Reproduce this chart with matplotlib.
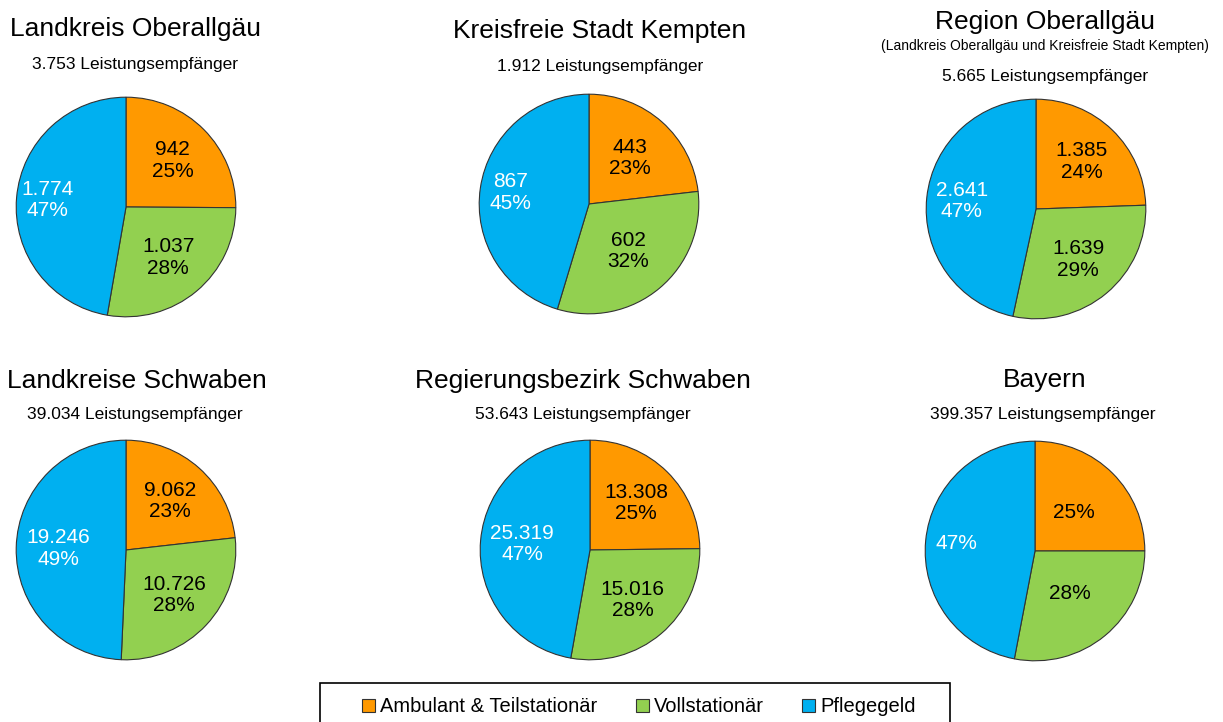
import matplotlib
matplotlib.use("Agg")
import matplotlib.pyplot as plt
from matplotlib.patches import Patch, Rectangle
import numpy as np

plt.rcParams["font.family"] = ["Liberation Sans", "DejaVu Sans"]

W, H = 1223, 722

categories = ["Ambulant & Teilstationär", "Vollstationär", "Pflegegeld"]
colors = ["#FF9900", "#92D050", "#00B0F0"]

titles = ["Landkreis Oberallgäu", "Kreisfreie Stadt Kempten", "Region Oberallgäu",
          "Landkreise Schwaben", "Regierungsbezirk Schwaben", "Bayern"]
totals = ["3.753", "1.912", "5.665", "39.034", "53.643", "399.357"]

ambulant = [942, 443, 1385, 9062, 13308, 99800]
vollstationaer = [1037, 602, 1639, 10726, 15016, 111900]
pflegegeld = [1774, 867, 2641, 19246, 25319, 187657]

pct_ambulant = [25, 23, 24, 23, 25, 25]
pct_voll = [28, 32, 29, 28, 28, 28]
pct_pflege = [47, 45, 47, 49, 47, 47]

show_counts = [True, True, True, True, True, False]


def fmt(n):
    return f"{n:,}".replace(",", ".")


# layout in pixels: pie centres, title positions
centers = [(126, 207), (589, 204), (1036, 209), (126, 550), (590, 550), (1035, 551)]
radius = 112
title_pos = [(136, 29), (600, 31), (1045, 22), (137, 381), (583, 381), (1045, 380)]
sub_pos = [(135, 64), (600, 66), (1045, 77), (135, 415), (583, 415), (1043, 415)]
# label distance (fraction of radius) per pie: [orange/green, blue]
label_r = [(0.6, 0.72), (0.56, 0.72), (0.6, 0.68), (0.6, 0.62), (0.6, 0.62), (0.5, 0.72)]

fig = plt.figure(figsize=(W / 100, H / 100), dpi=100)

for i in range(6):
    cx, cy = centers[i]
    ax = fig.add_axes([(cx - radius) / W, 1 - (cy + radius) / H, 2 * radius / W, 2 * radius / H])
    vals = [ambulant[i], vollstationaer[i], pflegegeld[i]]
    pcts = [pct_ambulant[i], pct_voll[i], pct_pflege[i]]
    wedges, _ = ax.pie(vals, colors=colors, startangle=90, counterclock=False,
                       wedgeprops=dict(edgecolor="#333333", linewidth=0.8))
    for j, w in enumerate(wedges):
        ang = np.deg2rad((w.theta1 + w.theta2) / 2)
        r = label_r[i][1] if j == 2 else label_r[i][0]
        x, y = r * np.cos(ang), r * np.sin(ang)
        txt = f"{fmt(vals[j])}\n{pcts[j]}%" if show_counts[i] else f"{pcts[j]}%"
        ax.text(x, y, txt, ha="center", va="center", fontsize=15,
                color="white" if j == 2 else "black", linespacing=1.15)
    ax.set_xlim(-1.02, 1.02)
    ax.set_ylim(-1.02, 1.02)
    ax.set_aspect("equal")
    ax.axis("off")

    tx, ty = title_pos[i]
    fig.text(tx / W, 1 - ty / H, titles[i], ha="center", va="center", fontsize=19)
    sx, sy = sub_pos[i]
    fig.text(sx / W, 1 - sy / H, f"{totals[i]} Leistungsempfänger", ha="center", va="center", fontsize=12.5)

fig.text(1045 / W, 1 - 46 / H, "(Landkreis Oberallgäu und Kreisfreie Stadt Kempten)",
         ha="center", va="center", fontsize=10)

# legend frame drawn separately (runs off the bottom edge like the original)
fig.patches.append(Rectangle((320 / W, -0.05), 630 / W, 0.05 + (722 - 683) / H,
                             transform=fig.transFigure, facecolor="white",
                             edgecolor="black", linewidth=1.2, zorder=0))
handles = [Patch(facecolor=c, edgecolor="#333333", linewidth=0.8) for c in colors]
leg = fig.legend(handles, categories, loc="center", bbox_to_anchor=(639 / W, 1 - 707 / H),
                 ncol=3, fontsize=14.5, frameon=False, handlelength=0.65,
                 handleheight=0.65, handletextpad=0.25, columnspacing=1.9)

fig.savefig("out.png", dpi=100)
